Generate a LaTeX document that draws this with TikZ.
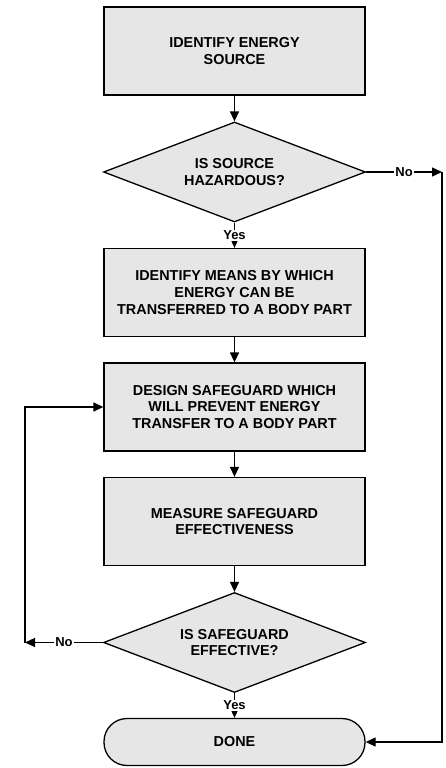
\documentclass[tikz,border=0pt]{standalone}
\usepackage{fontspec}
\setmainfont{Liberation Sans}
\usepackage{tikz}
\usetikzlibrary{positioning,shapes.geometric,arrows.meta}

\begin{document}
\begin{tikzpicture}[x=1pt,y=-1pt,line width=1.3pt,
    every node/.style={align=center, font=\fontsize{14.4}{16.8}\selectfont\bfseries},
    stepbox/.style={rectangle, draw, fill=boxgray, minimum width=261pt, minimum height=88pt, inner sep=0pt},
    decision/.style={diamond, draw, fill=boxgray, aspect=2.6, minimum width=262pt, minimum height=100pt, inner sep=0pt},
    endbox/.style={rectangle, draw, fill=boxgray, rounded corners=23pt, minimum width=261pt, minimum height=47pt, inner sep=0pt},
    answer/.style={fill=white, inner sep=1pt, font=\fontsize{13}{15}\selectfont\bfseries},
    flow/.style={-{Triangle[length=10pt,width=9pt]}}]
            % gray used for all the boxes
            \definecolor{boxgray}{HTML}{E6E6E6}
            \useasboundingbox (0,0) rectangle (445,768);
            \node[stepbox] (source) at (234.5,51) {IDENTIFY ENERGY\\SOURCE};
            \node[decision] (hazard) at (234.5,172) {IS SOURCE\\HAZARDOUS?};
            \node[stepbox] (means) at (234.5,292.5) {IDENTIFY MEANS BY WHICH\\ENERGY CAN BE\\TRANSFERRED TO A BODY PART};
            \node[stepbox] (design) at (234.5,407) {DESIGN SAFEGUARD WHICH\\WILL PREVENT ENERGY\\TRANSFER TO A BODY PART};
            \node[stepbox] (measure) at (234.5,521.5) {MEASURE SAFEGUARD\\EFFECTIVENESS};
            \node[decision] (effective) at (234.5,642.5) {IS SAFEGUARD\\EFFECTIVE?};
            \node[endbox] (done) at (234.5,742) {DONE};
            \coordinate (noright) at (442,172);
            \coordinate (noleft) at (25,642.5);
            \draw[flow] (source) -- (hazard);
            \draw[flow] (hazard) -- node[answer] {Yes} (means);
            \draw[flow] (means) -- (design);
            \draw[flow] (design) -- (measure);
            \draw[flow] (measure) -- (effective);
            \draw[flow] (effective) -- node[answer] {Yes} (done);
            \draw[flow] (hazard.east) -- node[answer] {No} (noright);
            \draw[flow] (noright) |- (done.east);
            \draw[flow] (effective.west) -- node[answer] {No} (noleft);
            \draw[flow] (noleft) |- (design.west);
        \end{tikzpicture}
\end{document}
